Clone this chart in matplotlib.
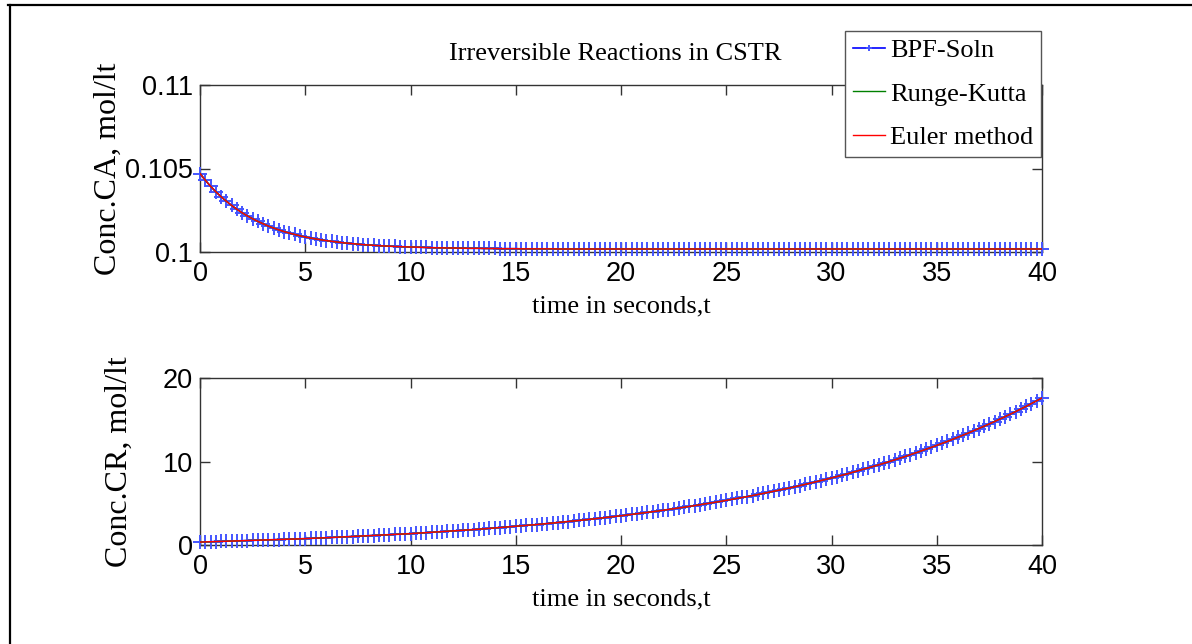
import matplotlib
matplotlib.use("Agg")
import matplotlib.pyplot as plt
from matplotlib.lines import Line2D
import numpy as np

# ---------------- data ----------------
title_text = "Irreversible Reactions in CSTR"
xlabel_text = "time in seconds,t"
ylabel_top = "Conc.CA, mol/lt"
ylabel_bottom = "Conc.CR, mol/lt"
series_names = ["BPF-Soln", "Runge-Kutta", "Euler method"]

xticks = [0, 5, 10, 15, 20, 25, 30, 35, 40]
ca_ticks = [0.1, 0.105, 0.11]
ca_ticklabels = ["0.1", "0.105", "0.11"]
cr_ticks = [0, 10, 20]
cr_ticklabels = ["0", "10", "20"]

# concentration of A, sampled every 0.25 s from t=0 to t=40
conc_ca = [
    0.10470, 0.10430, 0.10394, 0.10361, 0.10331, 0.10304, 0.10279, 0.10256, 0.10235, 0.10216,
    0.10199, 0.10183, 0.10169, 0.10155, 0.10143, 0.10132, 0.10122, 0.10113, 0.10105, 0.10097,
    0.10090, 0.10084, 0.10078, 0.10073, 0.10068, 0.10064, 0.10060, 0.10056, 0.10053, 0.10050,
    0.10047, 0.10044, 0.10042, 0.10040, 0.10038, 0.10036, 0.10035, 0.10033, 0.10032, 0.10031,
    0.10030, 0.10029, 0.10028, 0.10027, 0.10026, 0.10025, 0.10025, 0.10024, 0.10024, 0.10023,
    0.10023, 0.10022, 0.10022, 0.10022, 0.10021, 0.10021, 0.10021, 0.10020, 0.10020, 0.10020,
    0.10020, 0.10019, 0.10019, 0.10019, 0.10019, 0.10019, 0.10019, 0.10019, 0.10018, 0.10018,
    0.10018, 0.10018, 0.10018, 0.10018, 0.10018, 0.10018, 0.10018, 0.10018, 0.10018, 0.10018,
    0.10018, 0.10018, 0.10018, 0.10018, 0.10018, 0.10018, 0.10018, 0.10018, 0.10018, 0.10018,
    0.10018, 0.10018, 0.10018, 0.10018, 0.10018, 0.10018, 0.10018, 0.10018, 0.10018, 0.10018,
    0.10018, 0.10018, 0.10018, 0.10018, 0.10018, 0.10018, 0.10018, 0.10018, 0.10018, 0.10018,
    0.10018, 0.10018, 0.10018, 0.10018, 0.10018, 0.10018, 0.10018, 0.10018, 0.10018, 0.10018,
    0.10018, 0.10018, 0.10018, 0.10018, 0.10018, 0.10018, 0.10018, 0.10018, 0.10018, 0.10018,
    0.10018, 0.10018, 0.10018, 0.10018, 0.10018, 0.10018, 0.10018, 0.10018, 0.10018, 0.10018,
    0.10018, 0.10018, 0.10018, 0.10018, 0.10018, 0.10018, 0.10018, 0.10018, 0.10018, 0.10018,
    0.10018, 0.10018, 0.10018, 0.10018, 0.10018, 0.10018, 0.10018, 0.10018, 0.10018, 0.10018,
    0.10018,
]

# concentration of R, sampled every 0.25 s from t=0 to t=40
conc_cr = [
    0.35, 0.37, 0.39, 0.41, 0.42, 0.44, 0.46, 0.48, 0.50, 0.52,
    0.54, 0.56, 0.58, 0.60, 0.63, 0.65, 0.67, 0.69, 0.72, 0.74,
    0.77, 0.79, 0.82, 0.84, 0.87, 0.90, 0.92, 0.95, 0.98, 1.01,
    1.04, 1.07, 1.10, 1.13, 1.16, 1.19, 1.23, 1.26, 1.29, 1.33,
    1.36, 1.40, 1.44, 1.47, 1.51, 1.55, 1.59, 1.63, 1.67, 1.72,
    1.76, 1.80, 1.85, 1.89, 1.94, 1.99, 2.03, 2.08, 2.13, 2.18,
    2.23, 2.29, 2.34, 2.40, 2.45, 2.51, 2.57, 2.62, 2.69, 2.75,
    2.81, 2.87, 2.94, 3.00, 3.07, 3.14, 3.21, 3.28, 3.35, 3.43,
    3.50, 3.58, 3.66, 3.74, 3.82, 3.90, 3.98, 4.07, 4.16, 4.25,
    4.34, 4.43, 4.52, 4.62, 4.72, 4.82, 4.92, 5.02, 5.13, 5.23,
    5.35, 5.46, 5.57, 5.69, 5.80, 5.92, 6.05, 6.17, 6.30, 6.43,
    6.56, 6.69, 6.83, 6.97, 7.11, 7.26, 7.41, 7.56, 7.71, 7.87,
    8.03, 8.19, 8.35, 8.52, 8.70, 8.87, 9.05, 9.23, 9.42, 9.60,
    9.79, 9.99, 10.19, 10.39, 10.60, 10.81, 11.03, 11.25, 11.47, 11.70,
    11.93, 12.17, 12.40, 12.65, 12.90, 13.16, 13.41, 13.68, 13.95, 14.22,
    14.50, 14.79, 15.08, 15.37, 15.67, 15.98, 16.30, 16.61, 16.94, 17.27,
    17.61,
]

time = np.linspace(0.0, 40.0, len(conc_ca))

# ---------------- styling ----------------
W, H = 1192, 644
fig = plt.figure(figsize=(W / 100, H / 100), dpi=100)
fig.patch.set_facecolor("white")

serif = ["Liberation Serif", "DejaVu Serif"]
sans = ["Liberation Sans", "DejaVu Sans"]
spine_col = "#333333"


def px_axes(x0, y0, x1, y1):
    return fig.add_axes([x0 / W, 1 - y1 / H, (x1 - x0) / W, (y1 - y0) / H])


ax1 = px_axes(200, 85, 1042, 252)
ax2 = px_axes(200, 378, 1042, 545)

handles = []
for ax, y in ((ax1, conc_ca), (ax2, conc_cr)):
    h1, = ax.plot(time, y, color="#0000ff", lw=1.2, marker="+", markersize=10,
                  markeredgewidth=1.4, markeredgecolor="#4455ff", clip_on=False,
                  label=series_names[0], zorder=3)
    h2, = ax.plot(time, y, color="#008000", lw=1.0, label=series_names[1], zorder=4)
    h3, = ax.plot(time, y, color="red", lw=1.0, label=series_names[2], zorder=5)
    if not handles:
        handles = [h1, h2, h3]
    ax.set_xlim(0, 40)
    ax.set_xticks(xticks)
    ax.set_xticklabels([str(v) for v in xticks])
    for s in ax.spines.values():
        s.set_color(spine_col)
        s.set_linewidth(1.0)
    ax.tick_params(direction="in", length=7, width=1.0, color=spine_col,
                   top=True, right=True, labelsize=19.5)
    ax.tick_params(axis="x", pad=6.5)
    ax.tick_params(axis="y", pad=5)
    for lab in ax.get_xticklabels() + ax.get_yticklabels():
        lab.set_family(sans)
    ax.set_xlabel(xlabel_text, family=serif, fontsize=19)
    ax.xaxis.set_label_coords(0.5, -0.262)

ax1.set_ylim(0.1, 0.11)
ax1.set_yticks(ca_ticks)
ax1.set_yticklabels(ca_ticklabels, family=sans)
ax2.set_ylim(0, 20)
ax2.set_yticks(cr_ticks)
ax2.set_yticklabels(cr_ticklabels, family=sans)

ax1.set_ylabel(ylabel_top, family=serif, fontsize=23)
ax1.yaxis.set_label_coords((123 - 200) / 842, 0.5)
ax2.set_ylabel(ylabel_bottom, family=serif, fontsize=23)
ax2.yaxis.set_label_coords((134 - 200) / 842, 0.5)

fig.text(615 / W, 1 - 60 / H, title_text, family=serif, fontsize=19,
         ha="center", va="baseline")

leg = fig.legend(handles=handles, labels=series_names, loc="upper left",
                 bbox_to_anchor=(845 / W, 1 - 31 / H), borderaxespad=0,
                 prop={"family": serif, "size": 19}, frameon=True,
                 fancybox=False, framealpha=1, edgecolor="#555555",
                 handlelength=1.2, handletextpad=0.2, labelspacing=0.75,
                 borderpad=0.3, markerscale=0.5)
leg.get_frame().set_linewidth(1.0)

# outer border (top and left visible)
fig.add_artist(Line2D([8 / W, 1], [1 - 5 / H, 1 - 5 / H], color="black", lw=1.6,
                      transform=fig.transFigure))
fig.add_artist(Line2D([9.5 / W, 9.5 / W], [0, 1 - 5 / H], color="black", lw=1.6,
                      transform=fig.transFigure))

fig.savefig("out.png", dpi=100)
